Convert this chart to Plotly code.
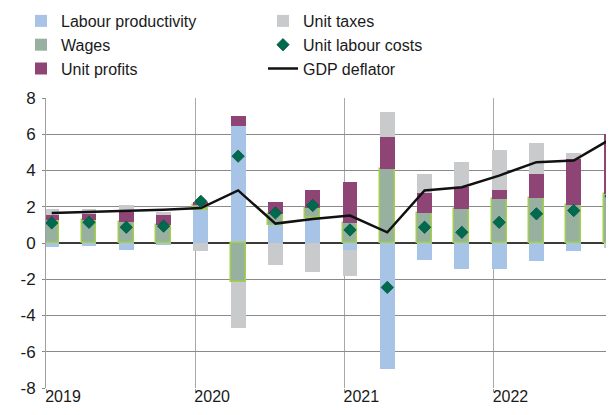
import plotly.graph_objects as go

# ---- data ----
quarters = ["2019Q1", "2019Q2", "2019Q3", "2019Q4",
            "2020Q1", "2020Q2", "2020Q3", "2020Q4",
            "2021Q1", "2021Q2", "2021Q3", "2021Q4",
            "2022Q1", "2022Q2", "2022Q3", "2022Q4"]
year_labels = ["2019", "2020", "2021", "2022"]
y_ticks = [-8, -6, -4, -2, 0, 2, 4, 6, 8]

labour_productivity = [-0.20, -0.17, -0.37, -0.10, 1.82, 6.45, 1.02, 1.39,
                       -0.36, -6.94, -0.95, -1.43, -1.41, -1.01, -0.46, 0.00]
wages = [1.29, 1.25, 1.16, 0.98, 0.25, -2.17, 0.60, 0.55,
         1.11, 4.09, 1.66, 1.88, 2.43, 2.49, 2.12, 2.71]
unit_profits = [0.28, 0.37, 0.56, 0.59, 0.20, 0.55, 0.65, 0.96,
                2.24, 1.77, 1.11, 1.20, 0.47, 1.29, 2.49, 3.32]
unit_taxes = [0.28, 0.23, 0.36, 0.15, -0.46, -2.52, -1.21, -1.58,
              -1.48, 1.38, 1.05, 1.38, 2.22, 1.71, 0.37, -0.27]
unit_labour_costs = [1.11, 1.14, 0.87, 0.93, 2.30, 4.79, 1.66, 2.07,
                     0.72, -2.45, 0.87, 0.59, 1.14, 1.61, 1.79, 2.58]
gdp_deflator = [1.65, 1.70, 1.76, 1.83, 1.93, 2.90, 1.07, 1.32,
                1.51, 0.59, 2.90, 3.08, 3.72, 4.46, 4.55, 5.75]

# ---- styling ----
C_PROD = "#A7C4E6"
C_WAGE = "#98B0A0"
C_WAGE_LINE = "#A2D149"
C_PROF = "#8E4474"
C_TAX = "#C9CACC"
C_ULC = "#006A4E"
FONT = "Arial, Liberation Sans, Helvetica, sans-serif"

x = list(range(len(quarters)))
offset = 0.153  # year gridline sits slightly left of the first quarter bar
year_pos = [quarters.index(y + "Q1") - offset for y in year_labels]

fig = go.Figure()
fig.add_trace(go.Bar(x=x, y=labour_productivity, name="Labour productivity",
                     marker=dict(color=C_PROD, line=dict(width=0)),
                     width=0.4, legend="legend", legendrank=1))
fig.add_trace(go.Bar(x=x, y=wages, name="Wages", showlegend=False,
                     marker=dict(color=C_WAGE, line=dict(color=C_WAGE_LINE, width=1.5)),
                     width=0.4))
# legend-only entry for wages (plain swatch, as in the reference)
fig.add_trace(go.Bar(x=[None], y=[None], name="Wages",
                     marker=dict(color=C_WAGE, line=dict(width=0)),
                     width=0.4, legend="legend", legendrank=2))
fig.add_trace(go.Bar(x=x, y=unit_profits, name="Unit profits",
                     marker=dict(color=C_PROF, line=dict(width=0)),
                     width=0.4, legend="legend", legendrank=3))
fig.add_trace(go.Bar(x=x, y=unit_taxes, name="Unit taxes",
                     marker=dict(color=C_TAX, line=dict(width=0)),
                     width=0.4, legend="legend2", legendrank=4))
fig.add_trace(go.Scatter(x=x, y=gdp_deflator, name="GDP deflator", mode="lines",
                         line=dict(color="#111111", width=2.5),
                         legend="legend2", legendrank=6))
fig.add_trace(go.Scatter(x=x, y=unit_labour_costs, name="Unit labour costs",
                         mode="markers",
                         marker=dict(symbol="diamond", size=9.5, color=C_ULC,
                                     line=dict(color="#00553E", width=0.8)),
                         legend="legend2", legendrank=5))

# The page body has an 8px margin, so the figure is sized to fit the window.
W, H = 606, 399
ml, mr, mt, mb = 38, 0, 90, 19
pw, ph = W - ml - mr, H - mt - mb


def px_to_paper_x(px):
    return (px - ml) / pw


def px_to_paper_y(py):
    return (H - mb - py) / ph


legend_common = dict(orientation="v", xanchor="left", yanchor="top",
                     bgcolor="rgba(0,0,0,0)", borderwidth=0,
                     font=dict(family=FONT, size=16, color="#1a1a1a"),
                     traceorder="normal", itemclick=False)

fig.update_layout(
    width=W, height=H,
    margin=dict(l=ml, r=mr, t=mt, b=mb, pad=0, autoexpand=False),
    paper_bgcolor="white", plot_bgcolor="white",
    barmode="relative", bargap=0,
    font=dict(family=FONT, size=17, color="#1a1a1a"),
    legend=dict(x=px_to_paper_x(13), y=px_to_paper_y(-4), **legend_common),
    legend2=dict(x=px_to_paper_x(255), y=px_to_paper_y(-4), **legend_common),
    xaxis=dict(
        range=[-offset, 15.08],
        tickmode="array", tickvals=year_pos, ticktext=year_labels,
        ticks="outside", ticklen=3, tickcolor="#999999",
        ticklabelshift=17, ticklabelstandoff=-9,
        showgrid=True, gridcolor="#A8A8A8", gridwidth=1,
        zeroline=False, showline=False,
        tickfont=dict(family=FONT, size=16, color="#1a1a1a"),
    ),
    yaxis=dict(
        range=[-8, 8],
        tickmode="array", tickvals=y_ticks, ticktext=[str(v) for v in y_ticks],
        ticks="outside", ticklen=3, tickcolor="#888888",
        showgrid=True, gridcolor="#8A8A8A", gridwidth=1,
        zeroline=True, zerolinecolor="#3A3A3A", zerolinewidth=1.5,
        showline=True, linecolor="#A0A0A0", linewidth=1,
        ticklabelstandoff=3,
        tickfont=dict(family=FONT, size=17, color="#1a1a1a"),
    ),
)

fig.write_html("out.html")
